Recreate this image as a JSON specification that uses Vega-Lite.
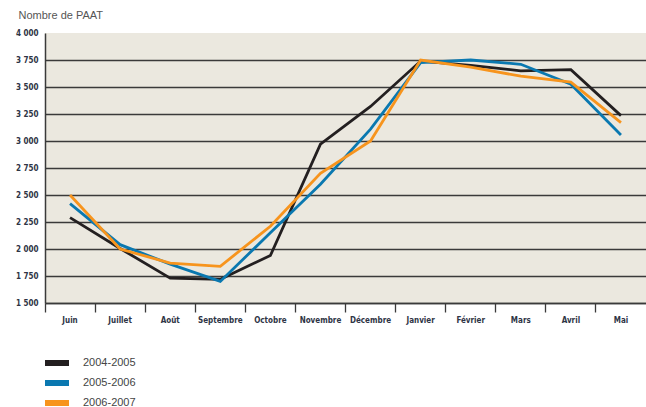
{
  "$schema": "https://vega.github.io/schema/vega-lite/v6.json",
  "width": 601,
  "height": 270,
  "autosize": {"type": "none"},
  "padding": {"left": 45, "top": 33, "right": 0, "bottom": 104},
  "background": "white",
  "config": {
    "view": {"fill": "#EBE8DF", "stroke": null},
    "font": "Liberation Sans"
  },
  "data": {
    "values": [
      {"mois": "Juin", "saison": "2004-2005", "n": 2290},
      {"mois": "Juillet", "saison": "2004-2005", "n": 2005},
      {"mois": "Août", "saison": "2004-2005", "n": 1730},
      {"mois": "Septembre", "saison": "2004-2005", "n": 1720},
      {"mois": "Octobre", "saison": "2004-2005", "n": 1940},
      {"mois": "Novembre", "saison": "2004-2005", "n": 2970},
      {"mois": "Décembre", "saison": "2004-2005", "n": 3320},
      {"mois": "Janvier", "saison": "2004-2005", "n": 3740},
      {"mois": "Février", "saison": "2004-2005", "n": 3700},
      {"mois": "Mars", "saison": "2004-2005", "n": 3650},
      {"mois": "Avril", "saison": "2004-2005", "n": 3660},
      {"mois": "Mai", "saison": "2004-2005", "n": 3235},
      {"mois": "Juin", "saison": "2005-2006", "n": 2420},
      {"mois": "Juillet", "saison": "2005-2006", "n": 2040},
      {"mois": "Août", "saison": "2005-2006", "n": 1860},
      {"mois": "Septembre", "saison": "2005-2006", "n": 1700},
      {"mois": "Octobre", "saison": "2005-2006", "n": 2150},
      {"mois": "Novembre", "saison": "2005-2006", "n": 2600},
      {"mois": "Décembre", "saison": "2005-2006", "n": 3110},
      {"mois": "Janvier", "saison": "2005-2006", "n": 3725},
      {"mois": "Février", "saison": "2005-2006", "n": 3750},
      {"mois": "Mars", "saison": "2005-2006", "n": 3710},
      {"mois": "Avril", "saison": "2005-2006", "n": 3525},
      {"mois": "Mai", "saison": "2005-2006", "n": 3055},
      {"mois": "Juin", "saison": "2006-2007", "n": 2500},
      {"mois": "Juillet", "saison": "2006-2007", "n": 2000},
      {"mois": "Août", "saison": "2006-2007", "n": 1870},
      {"mois": "Septembre", "saison": "2006-2007", "n": 1840},
      {"mois": "Octobre", "saison": "2006-2007", "n": 2210},
      {"mois": "Novembre", "saison": "2006-2007", "n": 2700},
      {"mois": "Décembre", "saison": "2006-2007", "n": 3000},
      {"mois": "Janvier", "saison": "2006-2007", "n": 3750},
      {"mois": "Février", "saison": "2006-2007", "n": 3685},
      {"mois": "Mars", "saison": "2006-2007", "n": 3600},
      {"mois": "Avril", "saison": "2006-2007", "n": 3545},
      {"mois": "Mai", "saison": "2006-2007", "n": 3170}
    ]
  },
  "mark": {"type": "line", "strokeWidth": 2.8, "strokeJoin": "miter"},
  "encoding": {
    "x": {
      "field": "mois",
      "type": "nominal",
      "sort": ["Juin", "Juillet", "Août", "Septembre", "Octobre", "Novembre", "Décembre", "Janvier", "Février", "Mars", "Avril", "Mai"],
      "bandPosition": 0.5,
      "scale": {"type": "band", "paddingInner": 0, "paddingOuter": 0},
      "axis": {
        "title": null,
        "labelAngle": 0,
        "bandPosition": 0,
        "domainColor": "#3a3a3a",
        "domainWidth": 1.5,
        "tickColor": "#3a3a3a",
        "tickSize": 9,
        "tickWidth": 1.3,
        "labelPadding": 4,
        "labelFont": "DejaVu Sans Condensed",
        "labelFontWeight": "bold",
        "labelFontSize": 8,
        "labelColor": "#2e3445",
        "labelBound": false,
        "labelOverlap": false
      }
    },
    "y": {
      "field": "n",
      "type": "quantitative",
      "scale": {"domain": [1500, 4000], "nice": false, "zero": false},
      "axis": {
        "title": "Nombre de PAAT",
        "titleAngle": 0,
        "titleAlign": "left",
        "titleBaseline": "middle",
        "titleX": -27,
        "titleY": -18,
        "titleFont": "Liberation Sans",
        "titleFontWeight": "normal",
        "titleFontSize": 11,
        "titleColor": "#555555",
        "values": [1500, 1750, 2000, 2250, 2500, 2750, 3000, 3250, 3500, 3750, 4000],
        "labelExpr": "replace(format(datum.value, ','), ',', ' ')",
        "labelFont": "DejaVu Sans Condensed",
        "labelFontWeight": "bold",
        "labelFontSize": 8,
        "labelColor": "#2e3445",
        "labelPadding": 7,
        "ticks": false,
        "domainColor": "#3a3a3a",
        "domainWidth": 1.5,
        "grid": true,
        "gridColor": {"condition": {"test": "datum.value == 4000", "value": "transparent"}, "value": "#3a3a3a"},
        "gridWidth": 1.3
      }
    },
    "color": {
      "field": "saison",
      "type": "nominal",
      "scale": {"domain": ["2004-2005", "2005-2006", "2006-2007"], "range": ["#231F20", "#0A78B0", "#F7941D"]},
      "legend": {
        "title": null,
        "orient": "none",
        "legendX": 4,
        "legendY": 322,
        "symbolType": "M-2.4,0H2.4",
        "symbolSize": 100,
        "symbolStrokeWidth": 6,
        "rowPadding": -4.5,
        "labelFont": "Liberation Sans",
        "labelFontSize": 11,
        "labelColor": "#444444",
        "labelOffset": 18
      }
    }
  }
}
